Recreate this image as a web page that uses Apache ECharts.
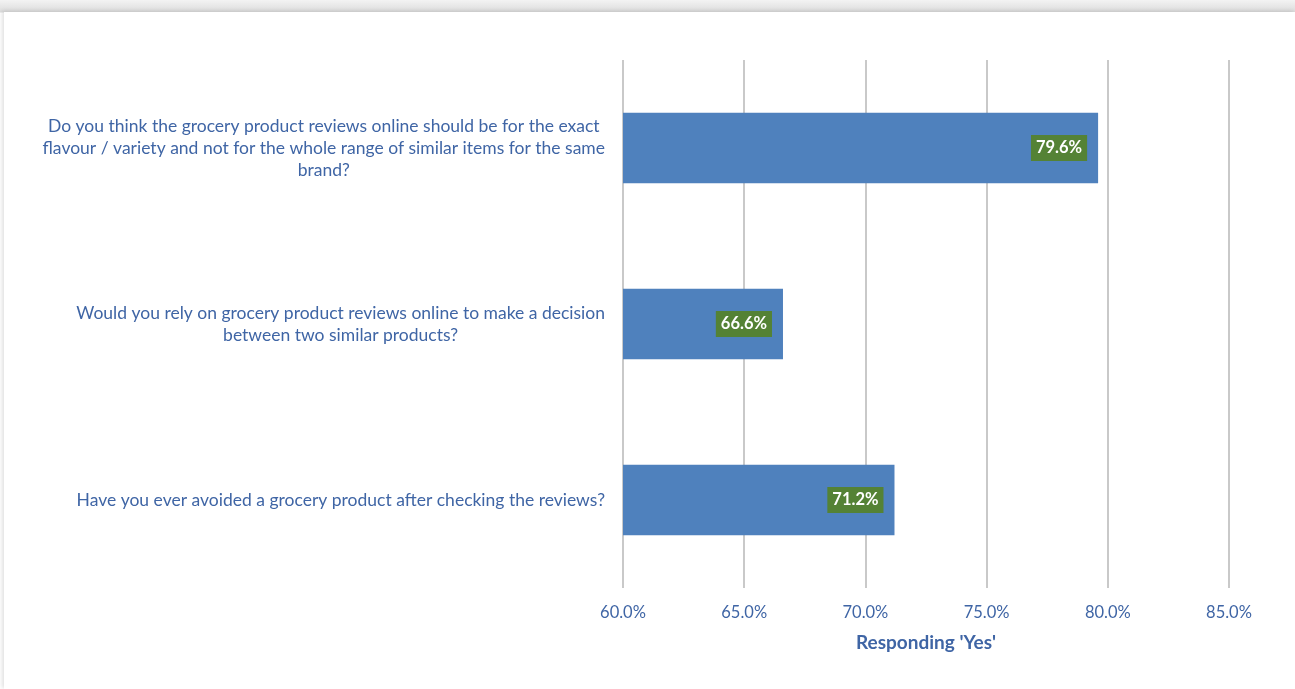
<!DOCTYPE html>
<html><head><meta charset="utf-8">
<script src="https://cdn.jsdelivr.net/npm/echarts@6/dist/echarts.min.js"></script>
<style>
html,body{margin:0;padding:0;background:#e9e9e9;}
#wrap{position:absolute;left:0;top:0;width:1295px;height:689px;background:linear-gradient(#f3f3f3,#dcdcdc 12px,#fff 13px);}
#chart{position:absolute;left:4px;top:12px;width:1291px;height:677px;background:#fff;box-shadow:-2px -1px 4px rgba(0,0,0,0.12);}
</style></head>
<body><div id="wrap"><div id="chart"></div></div>
<script>
const categories = [
  "Have you ever avoided a grocery product after checking the reviews?",
  "Would you rely on grocery product reviews online to make a decision\nbetween two similar products?",
  "Do you think the grocery product reviews online should be for the exact\nflavour / variety and not for the whole range of similar items for the same\nbrand?"
];
const values = [71.2, 66.6, 79.6];
const xMin = 60, xMax = 85, xStep = 5;
const axisTitle = "Responding 'Yes'";

const chart = echarts.init(document.getElementById('chart'));
chart.setOption({
  animation: false,
  grid: {left: 619, right: 66, top: 48, bottom: 101},
  xAxis: {
    type: 'value', min: xMin, max: xMax, interval: xStep,
    axisLine: {show: false}, axisTick: {show: false},
    splitLine: {lineStyle: {color: '#c9c9c9', width: 2}},
    axisLabel: {formatter: v => v.toFixed(1) + '%', color: '#3f65a5', fontFamily: 'Lato', fontSize: 16.5, margin: 16},
    name: axisTitle, nameLocation: 'middle', nameGap: 45,
    nameTextStyle: {color: '#3f65a5', fontFamily: 'Lato', fontSize: 19, fontWeight: 'bold'}
  },
  yAxis: {
    type: 'category', data: categories,
    axisLine: {show: false}, axisTick: {show: false},
    axisLabel: {
      margin: 18, align: 'right',
      formatter: v => v.split('\n').map(l => '{c|' + l + '}').join('\n'),
      rich: {c: {align: 'center', color: '#3f65a5', fontFamily: 'Lato', fontSize: 17.5, lineHeight: 22}}
    }
  },
  series: [{
    type: 'bar', data: values, barCategoryGap: '60%',
    itemStyle: {color: '#4f81bd'},
    label: {
      show: true, position: 'insideRight', offset: [-6, 0],
      formatter: p => p.value.toFixed(1) + '%',
      color: '#fff', fontWeight: 'bold', fontSize: 16.5, fontFamily: 'Lato',
      backgroundColor: '#548235', padding: [5, 5, 4, 5]
    }
  }]
});
</script></body></html>
